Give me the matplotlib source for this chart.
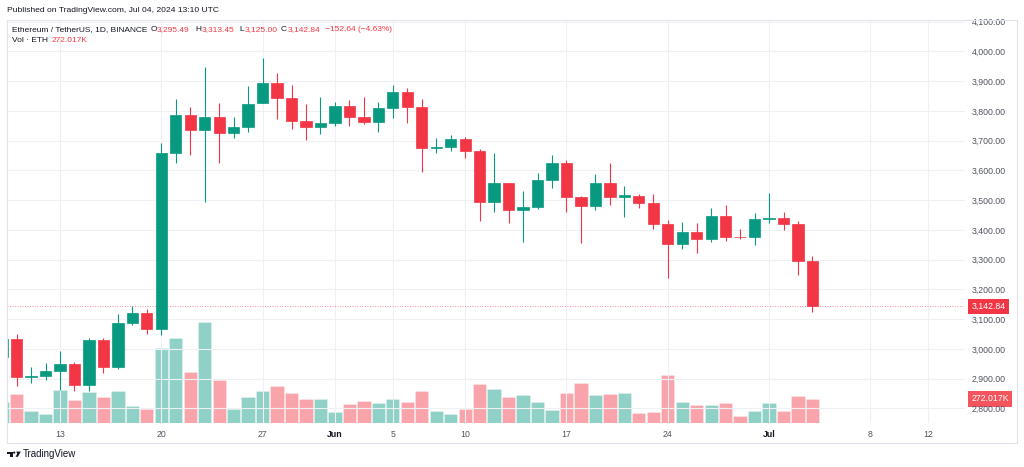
import matplotlib
matplotlib.use('Agg')
import matplotlib.pyplot as plt
import matplotlib.dates as mdates
from matplotlib.transforms import blended_transform_factory
from matplotlib.patches import Rectangle, Polygon, Circle
import pandas as pd

# ---------------- data ----------------
dates = pd.date_range('2024-05-09', '2024-07-04', freq='D')

opens = [2972, 3032, 2906, 2908, 2925, 2948, 2877, 3030, 2940, 3088, 3119,
         3067, 3660, 3786, 3736, 3781, 3727, 3747, 3826, 3893, 3842, 3766, 3745,
         3760, 3815, 3779, 3764, 3809, 3864, 3812, 3676, 3680, 3704, 3665, 3495,
         3557, 3467, 3478, 3568, 3624, 3510, 3480, 3557, 3512, 3515, 3491, 3419,
         3351, 3392, 3370, 3447, 3377, 3375, 3436, 3440, 3419, 3295.49]
highs = [3050, 3050, 2940, 2951, 2994, 2957, 3037, 3037, 3117, 3144, 3133,
         3691, 3839, 3812, 3947, 3828, 3778, 3884, 3977, 3929, 3887, 3823, 3848,
         3831, 3837, 3848, 3830, 3886, 3876, 3839, 3708, 3719, 3711, 3671, 3657,
         3557, 3531, 3592, 3652, 3635, 3514, 3587, 3624, 3546, 3521, 3520, 3433,
         3427, 3422, 3475, 3484, 3403, 3458, 3523, 3461, 3430, 3313.45]
lows = [2955, 2875, 2884, 2895, 2862, 2859, 2859, 2920, 2931, 3080, 3050,
        3046, 3624, 3651, 3495, 3624, 3708, 3730, 3826, 3772, 3740, 3702, 3722,
        3749, 3749, 3756, 3729, 3775, 3758, 3596, 3660, 3665, 3643, 3431, 3461,
        3424, 3359, 3469, 3540, 3461, 3355, 3467, 3484, 3444, 3473, 3403, 3237,
        3335, 3323, 3360, 3364, 3368, 3349, 3422, 3400, 3248, 3125.00]
closes = [3032, 2906, 2910, 2926, 2948, 2877, 3030, 2940, 3088, 3119, 3067,
          3660, 3786, 3736, 3781, 3727, 3747, 3823, 3893, 3842, 3766, 3745, 3760,
          3815, 3779, 3764, 3809, 3864, 3812, 3674, 3680, 3704, 3665, 3495, 3557,
          3467, 3478, 3568, 3624, 3510, 3480, 3557, 3512, 3516, 3491, 3419, 3351,
          3392, 3370, 3447, 3377, 3375, 3436, 3440, 3419, 3295, 3142.84]
volumes_k = [235, 328, 138, 104, 369, 264, 350, 291, 358, 197, 163,
             846, 951, 574, 1126, 479, 157, 291, 362, 418, 336, 272, 269,
             130, 213, 250, 227, 269, 238, 362, 138, 101, 157, 440, 384,
             298, 320, 242, 149, 336, 448, 320, 328, 343, 119, 130, 541,
             238, 208, 201, 224, 85, 138, 224, 138, 309, 272.017]

price_ticks = list(range(2800, 4101, 100))
time_tick_dates = ['2024-05-13', '2024-05-20', '2024-05-27', '2024-06-01', '2024-06-05',
                   '2024-06-10', '2024-06-17', '2024-06-24', '2024-07-01', '2024-07-08',
                   '2024-07-12']
time_tick_labels = ['13', '20', '27', 'Jun', '5', '10', '17', '24', 'Jul', '8', '12']

header = 'Published on TradingView.com, Jul 04, 2024 13:10 UTC'
symbol_text = 'Ethereum / TetherUS, 1D, BINANCE'
vol_title = 'Vol · ETH'
change_text = '\u2212152.64 (\u22124.63%)'

# ---------------- style ----------------
UP = '#089981'
DOWN = '#f23645'
GRID = '#eef0f4'
TXT = '#50535e'
DARK = '#131722'
FS = 6.0
plt.rcParams['font.family'] = ['Liberation Sans', 'DejaVu Sans']

W, H = 1024, 467
fig = plt.figure(figsize=(W / 100, H / 100), dpi=100)
rect = [7 / W, 1 - 423.3 / H, 958 / W, 403.3 / H]
axv = fig.add_axes(rect)
ax = fig.add_axes(rect, sharex=axv)
ax.patch.set_alpha(0)

xs = mdates.date2num(dates)
x0 = mdates.date2num(pd.Timestamp('2024-05-13'))

up = [c >= o for o, c in zip(opens, closes)]
colors = [UP if u else DOWN for u in up]

# volume
axv.bar(xs, volumes_k, width=0.92, color=colors, alpha=0.45, edgecolor='white', linewidth=0.4)
axv.set_ylim(0, max(volumes_k) / 0.25)
axv.set_yticks([])
axv.tick_params(axis='x', bottom=False, labelbottom=False)

# candles
ax.vlines(xs, lows, highs, colors=colors, linewidth=0.8, zorder=3)
body_bottom = [min(o, c) for o, c in zip(opens, closes)]
body_h = [abs(c - o) for o, c in zip(opens, closes)]
ax.bar(xs, body_h, bottom=body_bottom, width=0.78, color=colors, edgecolor=colors,
       linewidth=0.5, zorder=4)

ax.axhline(closes[-1], color=DOWN, linestyle=(0, (1, 2)), linewidth=0.6, alpha=0.7, zorder=2)

ax.set_xlim(x0 - 3.663, x0 + 62.54)
ax.set_ylim(2749.6, 4105.7)

ax.set_yticks(price_ticks)
ax.set_yticklabels([f'{p:,.2f}' for p in price_ticks])
ax.yaxis.tick_right()
ax.tick_params(axis='y', length=0, pad=5, labelsize=6.3, labelcolor=TXT)

tpos = mdates.date2num(pd.to_datetime(time_tick_dates))
ax.set_xticks(tpos)
ax.set_xticklabels(time_tick_labels)
ax.tick_params(axis='x', length=0, pad=5, labelsize=6.3, labelcolor=TXT)
for lab in ax.get_xticklabels():
    if lab.get_text() in ('Jun', 'Jul'):
        lab.set_fontweight('bold')
        lab.set_color(DARK)

ax.grid(True, color=GRID, linewidth=0.8, zorder=0)
ax.set_axisbelow(True)
for a in (ax, axv):
    for s in a.spines.values():
        s.set_visible(False)

# ---------------- overlay (pixel coords) ----------------
ov = fig.add_axes([0, 0, 1, 1])
ov.set_xlim(0, W)
ov.set_ylim(H, 0)
ov.axis('off')
ov.patch.set_alpha(0)

ov.add_patch(Rectangle((7, 20), 1010, 423, fill=False, edgecolor='#e0e3eb', linewidth=0.8))

ov.text(7, 10, header, fontsize=6.1, color=DARK, va='center', ha='left')
ov.text(12, 29.3, symbol_text, fontsize=FS, color=DARK, va='center', ha='left')
legend_parts = [('O', 150.5, DARK), (f'{opens[-1]:,.2f}', 156.5, DOWN),
                ('H', 195.8, DARK), (f'{highs[-1]:,.2f}', 201.6, DOWN),
                ('L', 239.3, DARK), (f'{lows[-1]:,.2f}', 244.3, DOWN),
                ('C', 281, DARK), (f'{closes[-1]:,.2f}', 287.3, DOWN),
                (change_text, 325, DOWN)]
for t, x, c in legend_parts:
    ov.text(x, 29.3, t, fontsize=FS, color=c, va='center', ha='left')
ov.text(12, 40.5, vol_title, fontsize=FS, color=DARK, va='center', ha='left')
ov.text(51.7, 40.5, f'{volumes_k[-1]:.3f}K', fontsize=FS, color=DOWN, va='center', ha='left')

# price labels on the scale
tr_p = blended_transform_factory(ov.transData, ax.transData)
ax.text(971.5, closes[-1], f'{closes[-1]:,.2f}', transform=tr_p, fontsize=6.3, color='white',
        va='center', ha='left', zorder=10, clip_on=False,
        bbox=dict(boxstyle='square,pad=0.35', fc=DOWN, ec='none'))
tr_v = blended_transform_factory(ov.transData, axv.transData)
axv.text(971.5, volumes_k[-1], f'{volumes_k[-1]:.3f}K', transform=tr_v, fontsize=6.3,
         color='white', va='center', ha='left', zorder=10, clip_on=False,
         bbox=dict(boxstyle='square,pad=0.35', fc='#f4545c', ec='none'))

# TradingView logo
ov.add_patch(Polygon([(6.7, 451.6), (12.6, 451.6), (12.6, 456.8), (10.3, 456.8),
                      (10.3, 453.6), (6.7, 453.6)], closed=True, fc=DARK, ec='none'))
ov.add_patch(Circle((14.2, 452.6), 1.1, fc=DARK, ec='none'))
ov.add_patch(Polygon([(16.2, 451.6), (20.8, 451.6), (17.9, 456.8), (15.6, 456.8),
                      (17.2, 453.6)], closed=True, fc=DARK, ec='none'))
ov.text(23, 454.3, 'TradingView', fontsize=7.0, color=DARK, va='center', ha='left')

fig.savefig('out.png', dpi=100)
